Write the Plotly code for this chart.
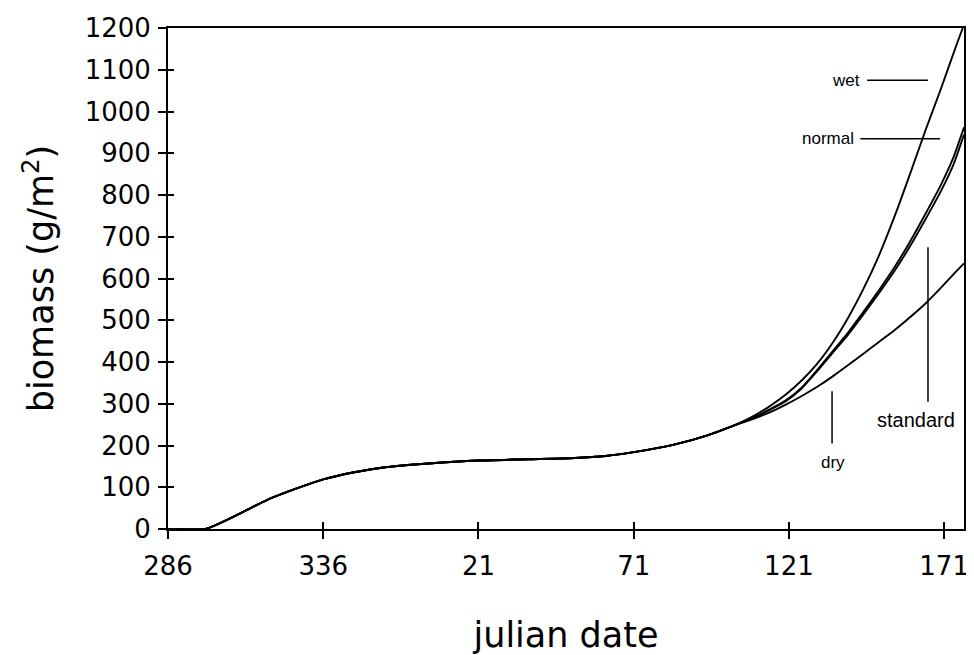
import plotly.graph_objects as go

# ---- data (julian day index; days after 365 wrap into the next year) ----
common_days = [286, 298, 300, 305, 311, 318, 327, 336, 346, 356, 370, 386, 402, 417, 427, 436, 449, 460, 469]
common_vals = [0, 0, 5, 22, 44, 70, 96, 119, 136, 148, 157, 164, 167, 170, 175, 184, 202, 225, 250]

wet_days = [475, 480, 485, 490, 495, 500, 505, 510, 515, 520, 525, 530, 535, 540, 542]
wet_vals = [272, 295, 322, 355, 395, 445, 505, 575, 655, 748, 850, 955, 1055, 1160, 1200]

branch_days = [475, 480, 485, 490, 495, 500, 505, 510, 515, 520, 525, 530, 535, 539, 542.4]
normal_vals = [268, 287, 308, 338, 380, 425, 470, 520, 572, 627, 688, 755, 825, 890, 962]
standard_vals = [268, 286, 306, 336, 377, 421, 465, 514, 565, 618, 677, 742, 810, 873, 945]
dry_vals = [265, 280, 298, 318, 340, 365, 392, 420, 448, 476, 507, 540, 578, 610, 636]

x_tickvals = [286, 336, 386, 436, 486, 536]
x_ticktext = ["286", "336", "21", "71", "121", "171"]
y_tickvals = list(range(0, 1201, 100))

series = [
    ("wet", wet_days, wet_vals),
    ("normal", branch_days, normal_vals),
    ("standard", branch_days, standard_vals),
    ("dry", branch_days, dry_vals),
]

fig = go.Figure()
for name, d, v in series:
    fig.add_trace(go.Scatter(
        x=common_days + d, y=common_vals + v, mode="lines", name=name,
        line=dict(color="black", width=1.9, shape="spline", smoothing=0.6),
        showlegend=False, hoverinfo="skip",
    ))

tick_font = dict(family="DejaVu Sans", size=26, color="black")
X_RANGE = [286, 542.4]
Y_RANGE = [0, 1200]

fig.update_layout(
    width=966, height=647,
    margin=dict(l=160, r=5, t=15, b=126),
    paper_bgcolor="white", plot_bgcolor="white",
    xaxis=dict(
        range=X_RANGE, tickvals=x_tickvals, ticktext=x_ticktext,
        ticks="outside", ticklen=8, tickwidth=1.5, tickcolor="black",
        showline=True, linecolor="black", linewidth=2, mirror=True,
        showgrid=False, zeroline=False, tickfont=tick_font,
        ticklabelstandoff=5,
        title=dict(text="julian date", font=dict(family="DejaVu Sans", size=35, color="black"), standoff=42),
    ),
    yaxis=dict(
        range=Y_RANGE, tickvals=y_tickvals,
        ticks="outside", ticklen=8, tickwidth=1.5, tickcolor="black",
        showline=True, linecolor="black", linewidth=2, mirror=True,
        showgrid=False, zeroline=False, tickfont=tick_font,
        ticklabelstandoff=2,
        title=dict(text="biomass (g/m<sup>2</sup>)", font=dict(family="DejaVu Sans", size=35, color="black"), standoff=20),
    ),
    # overlay axes to draw the inner half of the crossing tick marks
    xaxis2=dict(range=X_RANGE, tickvals=x_tickvals, showticklabels=False, ticks="inside",
                ticklen=7, tickwidth=1.5, tickcolor="black", overlaying="x", side="bottom",
                showgrid=False, zeroline=False, showline=False),
    yaxis2=dict(range=Y_RANGE, tickvals=y_tickvals, showticklabels=False, ticks="inside",
                ticklen=6, tickwidth=1.5, tickcolor="black", overlaying="y", side="left",
                showgrid=False, zeroline=False, showline=False),
)
# invisible trace to activate overlay axes
fig.add_trace(go.Scatter(x=[X_RANGE[0]], y=[Y_RANGE[0]], xaxis="x2", yaxis="y2", mode="markers",
                         marker=dict(opacity=0), showlegend=False, hoverinfo="skip"))

lab_font = dict(family="Liberation Sans", color="black")
labels = [
    ("wet", 504.5, 1075, 17),
    ("normal", 498.5, 935, 17),
    ("standard", 527, 262, 20),
    ("dry", 500.2, 160, 17),
]
for text, xx, yy, sz in labels:
    fig.add_annotation(x=xx, y=yy, text=text, showarrow=False, xref="x", yref="y",
                       font=dict(size=sz, **lab_font))

pointers = [
    (511.2, 1075, 530.8, 1075),
    (509.0, 935, 534.7, 935),
    (530.8, 675, 530.8, 305),
    (499.9, 330, 499.9, 205),
]
for x0, y0, x1, y1 in pointers:
    fig.add_shape(type="line", x0=x0, y0=y0, x1=x1, y1=y1, xref="x", yref="y",
                  line=dict(color="black", width=1.5))

fig.write_html("out.html")
